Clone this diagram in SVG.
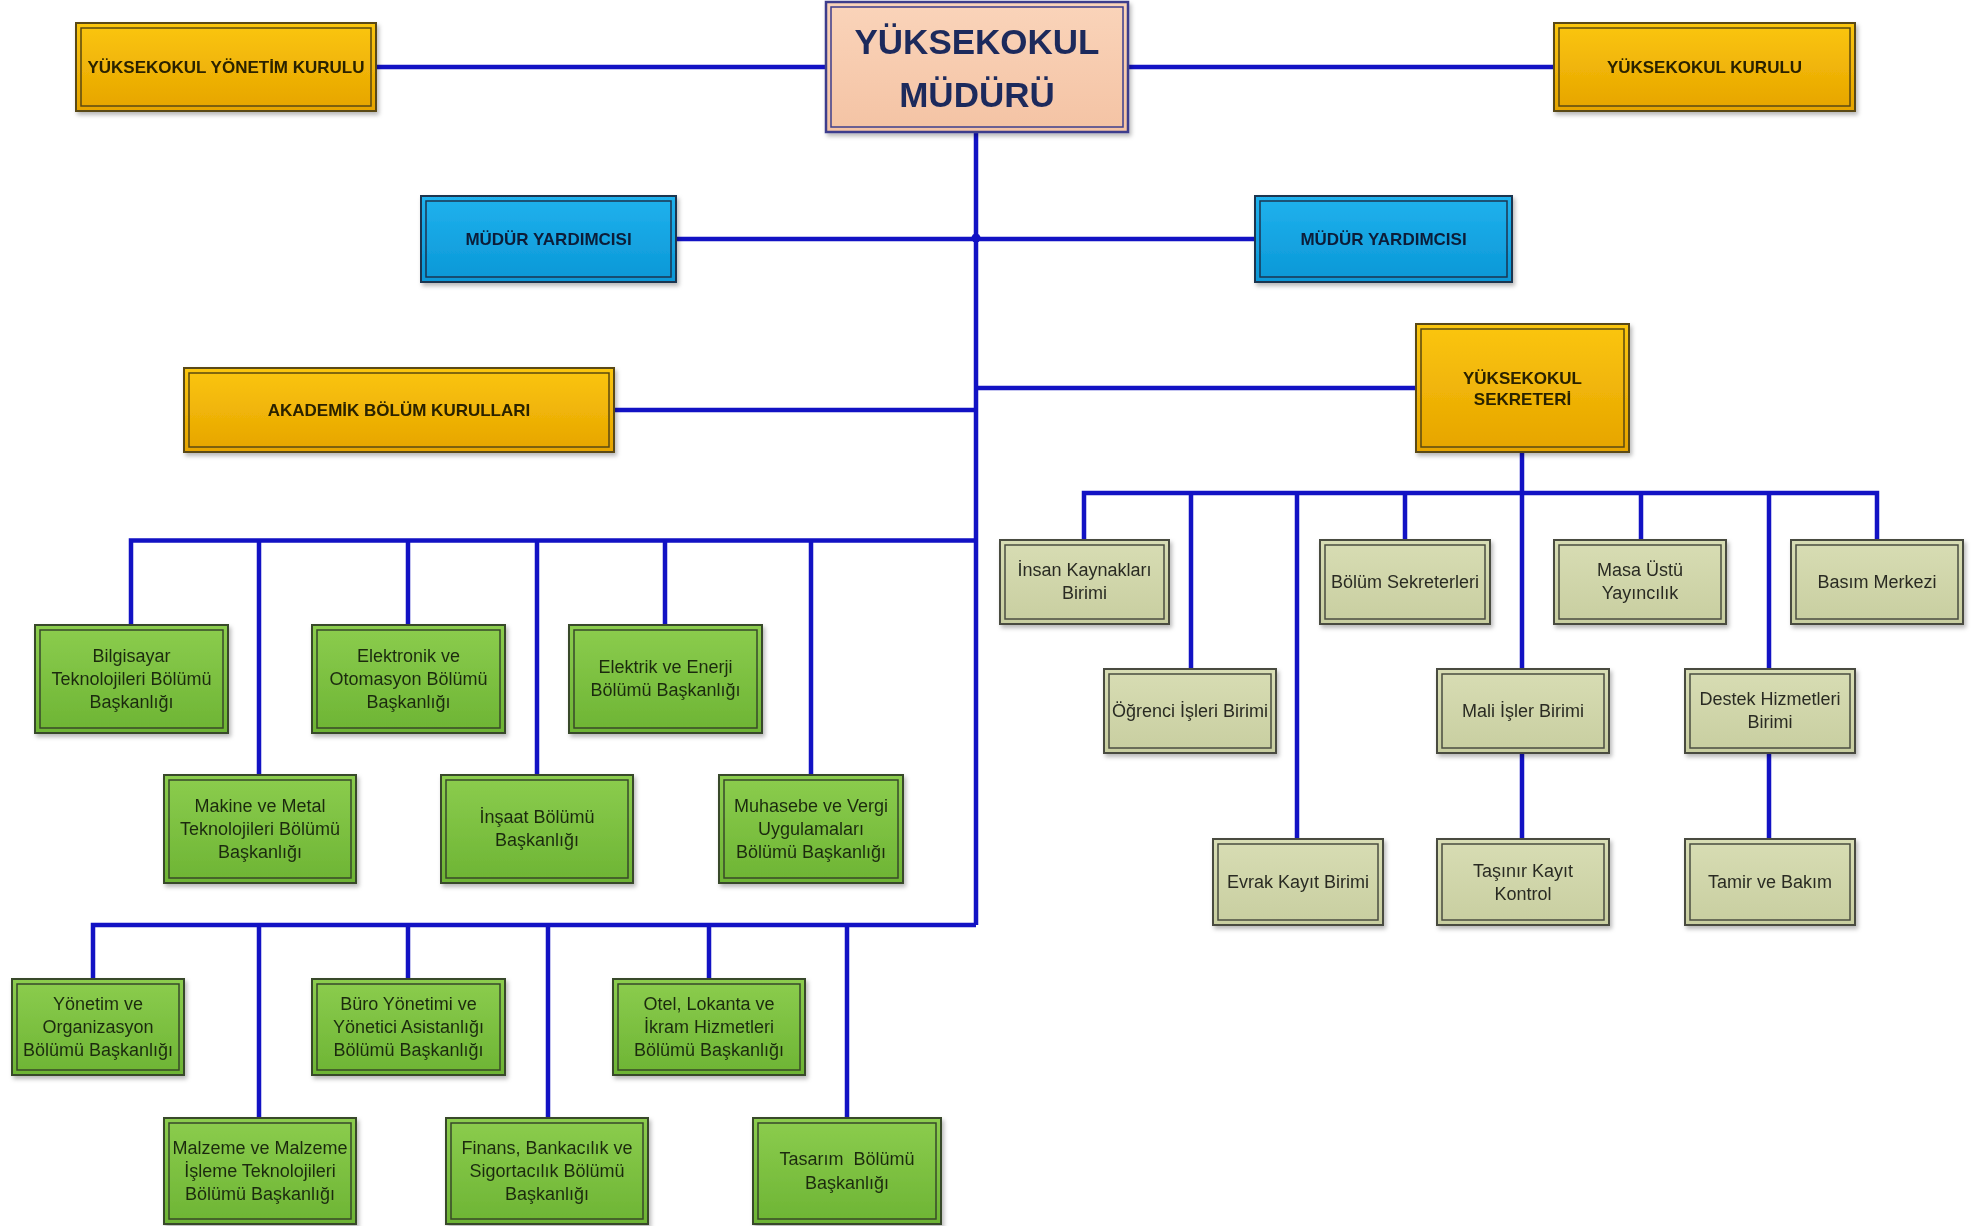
<svg xmlns="http://www.w3.org/2000/svg" width="1988" height="1226" viewBox="0 0 1988 1226">
<defs>
<linearGradient id="gOr" x1="0" y1="0" x2="0" y2="1"><stop offset="0" stop-color="#fbc60f"/><stop offset="1" stop-color="#e6a400"/></linearGradient>
<linearGradient id="gBl" x1="0" y1="0" x2="0" y2="1"><stop offset="0" stop-color="#20b2ee"/><stop offset="1" stop-color="#0a97d6"/></linearGradient>
<linearGradient id="gGr" x1="0" y1="0" x2="0" y2="1"><stop offset="0" stop-color="#8ccd4e"/><stop offset="1" stop-color="#6db434"/></linearGradient>
<linearGradient id="gGy" x1="0" y1="0" x2="0" y2="1"><stop offset="0" stop-color="#d8ddb4"/><stop offset="1" stop-color="#c8cea0"/></linearGradient>
<linearGradient id="gPk" x1="0" y1="0" x2="0" y2="1"><stop offset="0" stop-color="#fad4ba"/><stop offset="1" stop-color="#f4c3a4"/></linearGradient>
<filter id="sh" x="-10%" y="-10%" width="125%" height="130%"><feDropShadow dx="2" dy="3" stdDeviation="2" flood-color="#000" flood-opacity="0.28"/></filter>
</defs>
<style>
.or{fill:url(#gOr);stroke:#5a4812;stroke-width:2}
.bl{fill:url(#gBl);stroke:#1d3550;stroke-width:2}
.gr{fill:url(#gGr);stroke:#37482a;stroke-width:2}
.gy{fill:url(#gGy);stroke:#4a4c40;stroke-width:2}
.pk{fill:url(#gPk);stroke:#3c3c8c;stroke-width:2.5}
.in{fill:none;stroke-width:1.5}
.ior{stroke:#5a4812}.ibl{stroke:#1d3550}.igr{stroke:#37482a}.igy{stroke:#4a4c40}.ipk{stroke:#3c3c8c}
text{font-family:"Liberation Sans",Arial,sans-serif;text-anchor:middle}
.tb{font-size:17px;font-weight:bold;fill:#2a2205}
.tbl{font-size:17px;font-weight:bold;fill:#0c1e38}
.tg{font-size:18px;fill:#1c2c10}
.ty{font-size:18px;fill:#2a2c24}
.tt{font-size:35px;font-weight:bold;fill:#1e2a5c}
.c{fill:none;stroke:#1212c4;stroke-width:4.5;stroke-linejoin:miter}
</style>

<g id="connectors">
<path class="c" d="M377 67H826M1128 67H1554M976 132V925M676 239H1255M614 410H976M976 388H1416"/>
<circle cx="976" cy="238" r="4.5" fill="#1212c4"/>
<path class="c" d="M131 625V540.5H976M259 540.5V775M408 540.5V625M537 540.5V775M665 540.5V625M811 540.5V775"/>
<path class="c" d="M93 979V925H976M259 925V1118M408 925V979M548 925V1118M709 925V979M847 925V1118"/>
<path class="c" d="M1522 452V669M1084 540V493H1877V540M1191 493V669M1297 493V839M1405 493V540M1641 493V540M1769 493V669M1522 753V839M1769 753V839"/>
</g>

<g id="n_mudur" filter="url(#sh)"><rect class="pk" x="826" y="2" width="302" height="130"/><rect class="in ipk" x="831" y="7" width="292" height="120"/><text class="tt" x="977" y="54">YÜKSEKOKUL</text><text class="tt" x="977" y="107">MÜDÜRÜ</text></g>
<g id="n_yonetim_kurulu" filter="url(#sh)"><rect class="or" x="76" y="23" width="300" height="88"/><rect class="in ior" x="81" y="28" width="290" height="78"/><text class="tb" x="226" y="73">YÜKSEKOKUL YÖNETİM KURULU</text></g>
<g id="n_yuksekokul_kurulu" filter="url(#sh)"><rect class="or" x="1554" y="23" width="301" height="88"/><rect class="in ior" x="1559" y="28" width="291" height="78"/><text class="tb" x="1704.5" y="73">YÜKSEKOKUL KURULU</text></g>
<g id="n_mudur_yrd1" filter="url(#sh)"><rect class="bl" x="421" y="196" width="255" height="86"/><rect class="in ibl" x="426" y="201" width="245" height="76"/><text class="tbl" x="548.5" y="245">MÜDÜR YARDIMCISI</text></g>
<g id="n_mudur_yrd2" filter="url(#sh)"><rect class="bl" x="1255" y="196" width="257" height="86"/><rect class="in ibl" x="1260" y="201" width="247" height="76"/><text class="tbl" x="1383.5" y="245">MÜDÜR YARDIMCISI</text></g>
<g id="n_akademik" filter="url(#sh)"><rect class="or" x="184" y="368" width="430" height="84"/><rect class="in ior" x="189" y="373" width="420" height="74"/><text class="tb" x="399" y="416">AKADEMİK BÖLÜM KURULLARI</text></g>
<g id="n_sekreter" filter="url(#sh)"><rect class="or" x="1416" y="324" width="213" height="128"/><rect class="in ior" x="1421" y="329" width="203" height="118"/><text class="tb" x="1522.5" y="384">YÜKSEKOKUL</text><text class="tb" x="1522.5" y="405">SEKRETERİ</text></g>

<g id="n_bilgisayar" filter="url(#sh)"><rect class="gr" x="35" y="625" width="193" height="108"/><rect class="in igr" x="40" y="630" width="183" height="98"/><text class="tg" x="131.5" y="662">Bilgisayar</text><text class="tg" x="131.5" y="685">Teknolojileri Bölümü</text><text class="tg" x="131.5" y="708">Başkanlığı</text></g>
<g id="n_elektronik" filter="url(#sh)"><rect class="gr" x="312" y="625" width="193" height="108"/><rect class="in igr" x="317" y="630" width="183" height="98"/><text class="tg" x="408.5" y="662">Elektronik ve</text><text class="tg" x="408.5" y="685">Otomasyon Bölümü</text><text class="tg" x="408.5" y="708">Başkanlığı</text></g>
<g id="n_elektrik" filter="url(#sh)"><rect class="gr" x="569" y="625" width="193" height="108"/><rect class="in igr" x="574" y="630" width="183" height="98"/><text class="tg" x="665.5" y="673">Elektrik ve Enerji</text><text class="tg" x="665.5" y="696">Bölümü Başkanlığı</text></g>
<g id="n_makine" filter="url(#sh)"><rect class="gr" x="164" y="775" width="192" height="108"/><rect class="in igr" x="169" y="780" width="182" height="98"/><text class="tg" x="260" y="812">Makine ve Metal</text><text class="tg" x="260" y="835">Teknolojileri Bölümü</text><text class="tg" x="260" y="858">Başkanlığı</text></g>
<g id="n_insaat" filter="url(#sh)"><rect class="gr" x="441" y="775" width="192" height="108"/><rect class="in igr" x="446" y="780" width="182" height="98"/><text class="tg" x="537" y="823">İnşaat Bölümü</text><text class="tg" x="537" y="846">Başkanlığı</text></g>
<g id="n_muhasebe" filter="url(#sh)"><rect class="gr" x="719" y="775" width="184" height="108"/><rect class="in igr" x="724" y="780" width="174" height="98"/><text class="tg" x="811" y="812">Muhasebe ve Vergi</text><text class="tg" x="811" y="835">Uygulamaları</text><text class="tg" x="811" y="858">Bölümü Başkanlığı</text></g>
<g id="n_yonetim_org" filter="url(#sh)"><rect class="gr" x="12" y="979" width="172" height="96"/><rect class="in igr" x="17" y="984" width="162" height="86"/><text class="tg" x="98" y="1010">Yönetim ve</text><text class="tg" x="98" y="1033">Organizasyon</text><text class="tg" x="98" y="1056">Bölümü Başkanlığı</text></g>
<g id="n_buro" filter="url(#sh)"><rect class="gr" x="312" y="979" width="193" height="96"/><rect class="in igr" x="317" y="984" width="183" height="86"/><text class="tg" x="408.5" y="1010">Büro Yönetimi ve</text><text class="tg" x="408.5" y="1033">Yönetici Asistanlığı</text><text class="tg" x="408.5" y="1056">Bölümü Başkanlığı</text></g>
<g id="n_otel" filter="url(#sh)"><rect class="gr" x="613" y="979" width="192" height="96"/><rect class="in igr" x="618" y="984" width="182" height="86"/><text class="tg" x="709" y="1010">Otel, Lokanta ve</text><text class="tg" x="709" y="1033">İkram Hizmetleri</text><text class="tg" x="709" y="1056">Bölümü Başkanlığı</text></g>
<g id="n_malzeme" filter="url(#sh)"><rect class="gr" x="164" y="1118" width="192" height="106"/><rect class="in igr" x="169" y="1123" width="182" height="96"/><text class="tg" x="260" y="1154">Malzeme ve Malzeme</text><text class="tg" x="260" y="1177">İşleme Teknolojileri</text><text class="tg" x="260" y="1200">Bölümü Başkanlığı</text></g>
<g id="n_finans" filter="url(#sh)"><rect class="gr" x="446" y="1118" width="202" height="106"/><rect class="in igr" x="451" y="1123" width="192" height="96"/><text class="tg" x="547" y="1154">Finans, Bankacılık ve</text><text class="tg" x="547" y="1177">Sigortacılık Bölümü</text><text class="tg" x="547" y="1200">Başkanlığı</text></g>
<g id="n_tasarim" filter="url(#sh)"><rect class="gr" x="753" y="1118" width="188" height="106"/><rect class="in igr" x="758" y="1123" width="178" height="96"/><text class="tg" x="847" y="1165" style="white-space:pre">Tasarım  Bölümü</text><text class="tg" x="847" y="1189">Başkanlığı</text></g>

<g id="n_insan" filter="url(#sh)"><rect class="gy" x="1000" y="540" width="169" height="84"/><rect class="in igy" x="1005" y="545" width="159" height="74"/><text class="ty" x="1084.5" y="576">İnsan Kaynakları</text><text class="ty" x="1084.5" y="599">Birimi</text></g>
<g id="n_bolum_sek" filter="url(#sh)"><rect class="gy" x="1320" y="540" width="170" height="84"/><rect class="in igy" x="1325" y="545" width="160" height="74"/><text class="ty" x="1405" y="588">Bölüm Sekreterleri</text></g>
<g id="n_masa" filter="url(#sh)"><rect class="gy" x="1554" y="540" width="172" height="84"/><rect class="in igy" x="1559" y="545" width="162" height="74"/><text class="ty" x="1640" y="576">Masa Üstü</text><text class="ty" x="1640" y="599">Yayıncılık</text></g>
<g id="n_basim" filter="url(#sh)"><rect class="gy" x="1791" y="540" width="172" height="84"/><rect class="in igy" x="1796" y="545" width="162" height="74"/><text class="ty" x="1877" y="588">Basım Merkezi</text></g>
<g id="n_ogrenci" filter="url(#sh)"><rect class="gy" x="1104" y="669" width="172" height="84"/><rect class="in igy" x="1109" y="674" width="162" height="74"/><text class="ty" x="1190" y="717">Öğrenci İşleri Birimi</text></g>
<g id="n_mali" filter="url(#sh)"><rect class="gy" x="1437" y="669" width="172" height="84"/><rect class="in igy" x="1442" y="674" width="162" height="74"/><text class="ty" x="1523" y="717">Mali İşler Birimi</text></g>
<g id="n_destek" filter="url(#sh)"><rect class="gy" x="1685" y="669" width="170" height="84"/><rect class="in igy" x="1690" y="674" width="160" height="74"/><text class="ty" x="1770" y="705">Destek Hizmetleri</text><text class="ty" x="1770" y="728">Birimi</text></g>
<g id="n_evrak" filter="url(#sh)"><rect class="gy" x="1213" y="839" width="170" height="86"/><rect class="in igy" x="1218" y="844" width="160" height="76"/><text class="ty" x="1298" y="888">Evrak Kayıt Birimi</text></g>
<g id="n_tasinir" filter="url(#sh)"><rect class="gy" x="1437" y="839" width="172" height="86"/><rect class="in igy" x="1442" y="844" width="162" height="76"/><text class="ty" x="1523" y="877">Taşınır Kayıt</text><text class="ty" x="1523" y="900">Kontrol</text></g>
<g id="n_tamir" filter="url(#sh)"><rect class="gy" x="1685" y="839" width="170" height="86"/><rect class="in igy" x="1690" y="844" width="160" height="76"/><text class="ty" x="1770" y="888">Tamir ve Bakım</text></g>
</svg>
